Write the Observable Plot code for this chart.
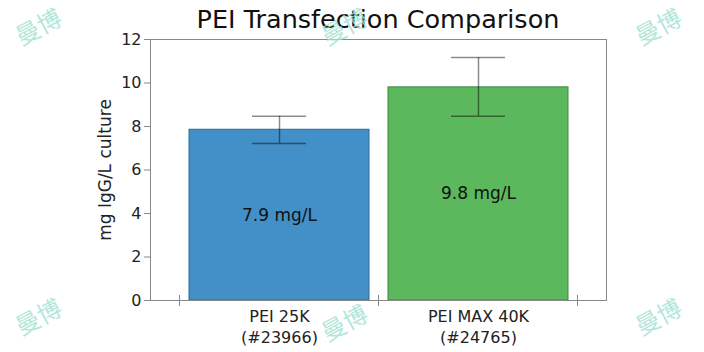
<!DOCTYPE html>
<html>
<head>
<meta charset="utf-8">
<script src="https://cdn.jsdelivr.net/npm/d3@7"></script>
<script src="https://cdn.jsdelivr.net/npm/@observablehq/plot@0.6"></script>
<style>
  html, body { margin: 0; padding: 0; background: #fff; }
  #wrap { position: relative; width: 704px; height: 352px; overflow: hidden; font-family: "DejaVu Sans", sans-serif; }
  #title { position: absolute; left: 150px; width: 456px; top: 4px; text-align: center; font-size: 25.5px; color: #111; line-height: 30px; white-space: nowrap; }
  .wm { position: absolute; font-family: "Noto Sans CJK SC", sans-serif; font-size: 24px; line-height: 28px; color: #9fe2d2; opacity: 0.8; transform: rotate(-28deg); pointer-events: none; }
</style>
</head>
<body>
<div id="wrap">
  <div id="chart"></div>
  <div id="title"></div>
</div>
<script>
const title = "PEI Transfection Comparison";
const yLabel = "mg IgG/L culture";
const categories = ["PEI 25K", "PEI MAX 40K"];
const catalogNumbers = ["(#23966)", "(#24765)"];
const values = [7.85, 9.8];
const errLow = [7.22, 8.47];
const errHigh = [8.47, 11.17];
const valueLabels = ["7.9 mg/L", "9.8 mg/L"];
const barColors = ["#4390c8", "#5cb85c"];
const barStrokes = ["#2f6a96", "#3f8a3f"];
const yTicks = [0, 2, 4, 6, 8, 10, 12];
const watermark = "曼博";
const watermarkSpots = [[14, 12], [320, 12], [634, 12], [14, 302], [320, 308], [634, 302]];

const data = categories.map((c, i) => ({
  cat: c, label: c + "\n" + catalogNumbers[i], value: values[i],
  lo: errLow[i], hi: errHigh[i], text: valueLabels[i],
  fill: barColors[i], stroke: barStrokes[i]
}));

document.getElementById("title").textContent = title;

const plot = Plot.plot({
  width: 704,
  height: 352,
  marginTop: 39,
  marginBottom: 52,
  marginLeft: 150,
  marginRight: 98,
  style: { fontFamily: "DejaVu Sans, sans-serif", fontSize: "16px", color: "#222", background: "transparent" },
  x: { domain: categories, paddingInner: 0.096, paddingOuter: 0.19, axis: null },
  y: { domain: [0, 12], axis: null },
  marks: [
    Plot.barY(data, { x: "cat", y: "value", fill: "fill", stroke: "stroke", strokeWidth: 1 }),
    Plot.ruleX(data, { x: "cat", y1: "lo", y2: "hi", stroke: "#000", strokeOpacity: 0.45, strokeWidth: 1.5 }),
    Plot.tickY(data, { x: "cat", y: "lo", stroke: "#000", strokeOpacity: 0.45, strokeWidth: 1.5, insetLeft: 63, insetRight: 63 }),
    Plot.tickY(data, { x: "cat", y: "hi", stroke: "#000", strokeOpacity: 0.45, strokeWidth: 1.5, insetLeft: 63, insetRight: 63 }),
    Plot.text(data, { x: "cat", y: d => d.value / 2, text: "text", fill: "#111", fontSize: 17 }),
    Plot.text(data, { x: "cat", text: "label", frameAnchor: "bottom", lineAnchor: "top", dy: 7, lineHeight: 1.3, fill: "#222", fontSize: 16 }),
    Plot.frame({ stroke: "#888", strokeWidth: 1 }),
    Plot.axisY({ ticks: yTicks, tickSize: 6, tickPadding: 3, stroke: "#888", fontSize: 16, label: null }),
    Plot.axisY({ ticks: [], tickSize: 0, fontSize: 17, label: yLabel, labelAnchor: "center", labelArrow: "none", labelOffset: 52 })
  ]
});

document.getElementById("chart").appendChild(plot);

// x-axis tick marks at band boundaries, positioned through the x scale
const xs = plot.scale("x");
const boundaries = [];
categories.forEach((c, i) => {
  const start = xs.apply(c);
  const half = (xs.step - xs.bandwidth) / 2;
  if (i === 0) boundaries.push(start - half);
  boundaries.push(start + xs.bandwidth + half);
});
const yb = plot.scale("y").apply(0);
const g = d3.select(plot).append("g").attr("stroke", "#888");
boundaries.forEach(bx => {
  g.append("line").attr("x1", bx).attr("x2", bx).attr("y1", yb - 5).attr("y2", yb + 6);
});

const wrap = document.getElementById("wrap");
watermarkSpots.forEach(([l, t]) => {
  const d = document.createElement("div");
  d.className = "wm";
  d.style.left = l + "px";
  d.style.top = t + "px";
  d.textContent = watermark;
  wrap.appendChild(d);
});
</script>
</body>
</html>
